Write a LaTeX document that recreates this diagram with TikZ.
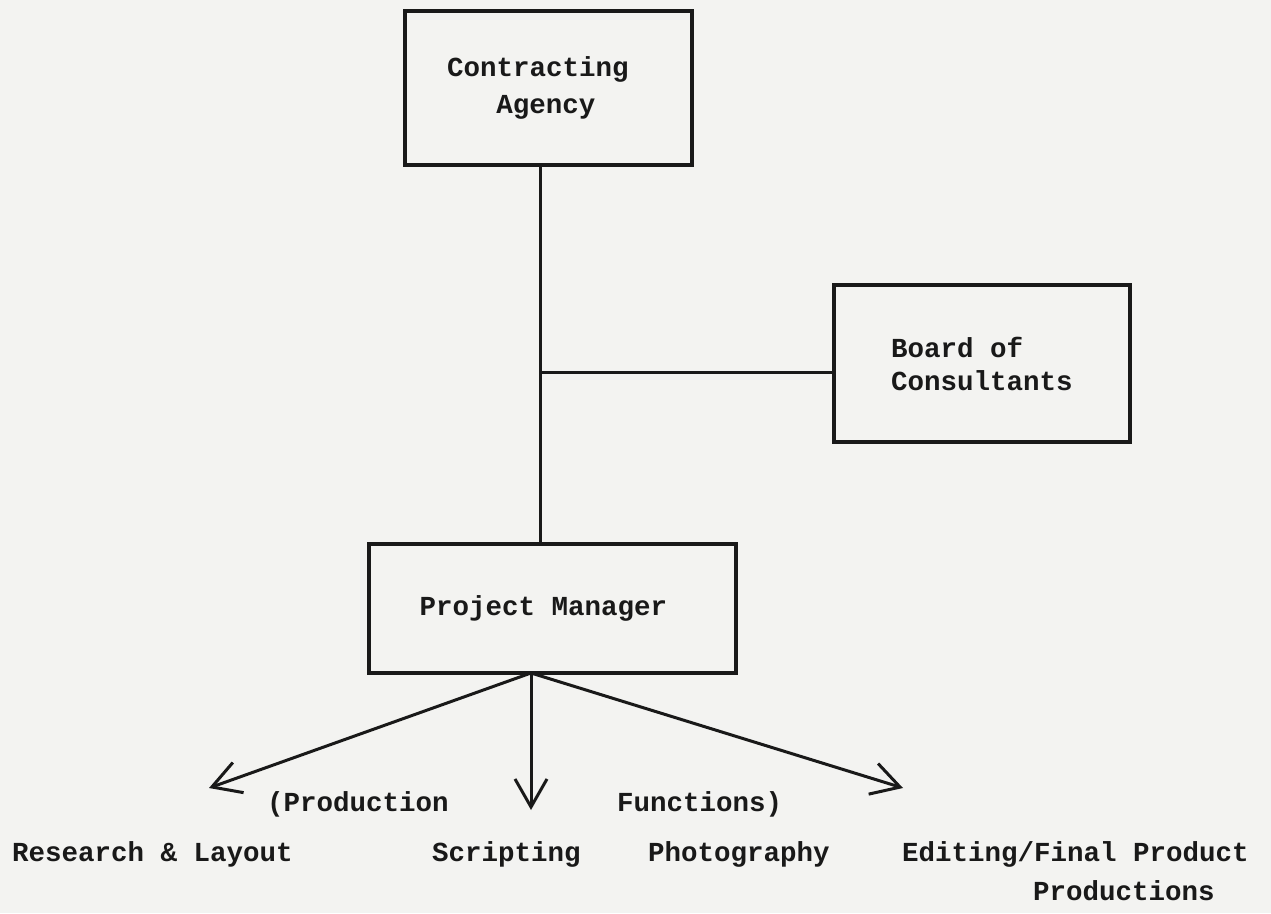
\documentclass[tikz,border=0pt]{standalone}
\usepackage{fontspec}
\setmainfont{Liberation Mono}[BoldFont={Liberation Mono Bold}]
\usetikzlibrary{arrows.meta}
\definecolor{paper}{RGB}{243,243,241}
\definecolor{ink}{RGB}{25,25,25}
\tikzset{
  every node/.style={text=ink},
  typefont/.style={font=\fontsize{27.5}{37}\selectfont\bfseries},
  box/.style={draw=ink, line width=4pt, rectangle, inner sep=0pt, typefont},
  link/.style={draw=ink, line width=3pt},
  arr/.style={link, line cap=round, -{Straight Barb[length=28pt,width=32pt,line width=3pt]}},
  lbl/.style={anchor=base west, inner sep=0pt, typefont}
}
\begin{document}
\begin{tikzpicture}[x=1pt,y=-1pt]
\fill[paper] (0,0) rectangle (1271,913);
\useasboundingbox (0,0) rectangle (1271,913);

\node[box, minimum width=287pt, minimum height=154pt, align=center] (agency) at (548.5,88)
  {Contracting\hspace*{21pt}\\Agency\hspace*{5pt}};
\node[box, minimum width=296pt, minimum height=157pt, align=left,
      font=\fontsize{27.5}{33}\selectfont\bfseries] (board) at (982,363.5)
  {Board of\\Consultants};
\node[box, minimum width=367pt, minimum height=129pt] (pm) at (552.5,608.5)
  {Project Manager\hspace*{18pt}};

\coordinate (jn) at (540,372);
\draw[link] (agency.south -| jn) -- (pm.north -| jn);
\draw[link] (jn) -- (board.west |- jn);

\coordinate (hub) at (531,673);
\coordinate (tipL) at (209,788);
\coordinate (tipC) at (531,810);
\coordinate (tipR) at (903,788);
\draw[arr] (hub) -- (tipL);
\draw[arr] (hub) -- (tipC);
\draw[arr] (hub) -- (tipR);

\node[lbl] (prod) at (267,811) {(Production};
\node[lbl] (func) at (617,811) {Functions)};
\node[lbl] (research) at (12,861) {Research \& Layout};
\node[lbl] (script) at (432,861) {Scripting};
\node[lbl] (photo) at (648,861) {Photography};
\node[lbl] (edit) at (902,861) {Editing/Final Product};
\node[lbl] (prods) at (1033,900) {Productions};
\end{tikzpicture}
\end{document}
